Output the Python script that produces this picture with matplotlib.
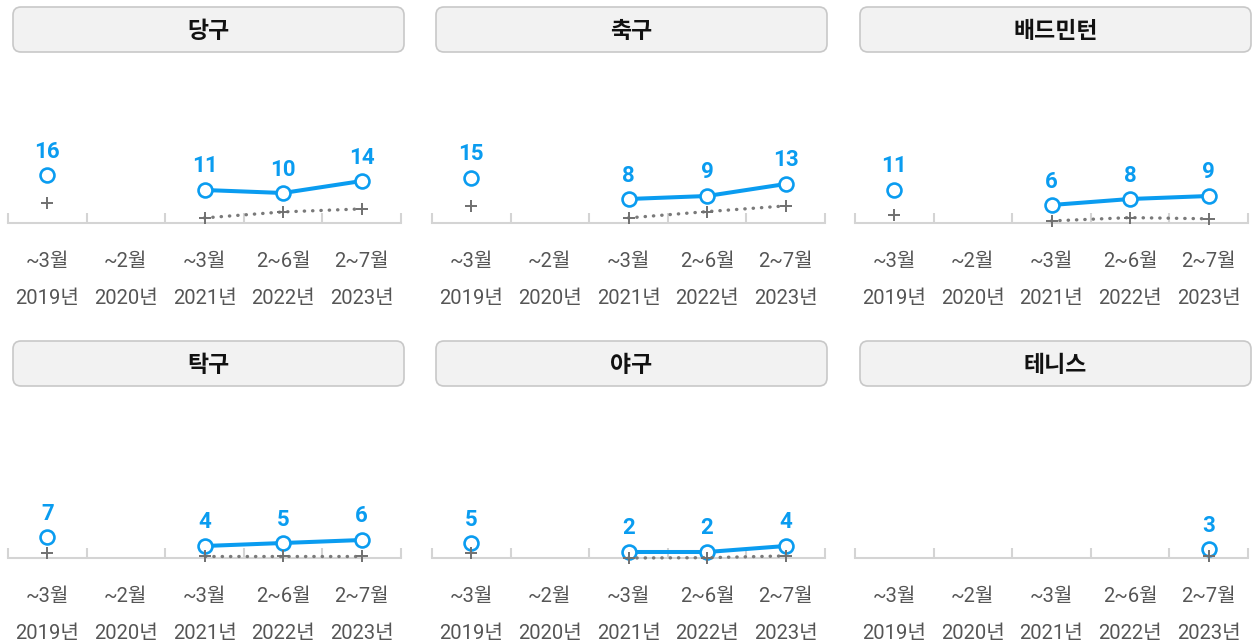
import numpy as np
import matplotlib
matplotlib.use("Agg")
import matplotlib.pyplot as plt
from matplotlib.patches import FancyBboxPatch
from matplotlib.transforms import IdentityTransform

plt.rcParams['font.family'] = ['Noto Sans CJK KR', 'DejaVu Sans']
LABEL_FONT = ['Roboto', 'Noto Sans CJK KR']

categories = ["~3월\n2019년", "~2월\n2020년", "~3월\n2021년", "2~6월\n2022년", "2~7월\n2023년"]
sports = ["당구", "축구", "배드민턴", "탁구", "야구", "테니스"]
nan = np.nan
blue_values = {
    "당구": [16, nan, 11, 10, 14],
    "축구": [15, nan, 8, 9, 13],
    "배드민턴": [11, nan, 6, 8, 9],
    "탁구": [7, nan, 4, 5, 6],
    "야구": [5, nan, 2, 2, 4],
    "테니스": [nan, nan, nan, nan, 3],
}
gray_values = {
    "당구": [6.8, nan, 1.7, 3.7, 4.7],
    "축구": [5.7, nan, 1.7, 3.8, 5.7],
    "배드민턴": [2.7, nan, 0.7, 1.8, 1.4],
    "탁구": [1.7, nan, 0.8, 0.8, 0.8],
    "야구": [1.8, nan, 0.0, 0.1, 0.7],
    "테니스": [nan, nan, nan, nan, 0.7],
}

BLUE = "#0a9cf0"
W, H = 1256, 643
fig = plt.figure(figsize=(W / 100, H / 100), dpi=100)

ax_lefts = [8, 432, 855]
ax_w = 393
box_lefts = [13, 436, 860]
box_w = 391
row_axis_y = [223, 558]      # pixel y (from top) of baseline
row_box_top = [7, 341]
box_h = 45
ax_h = 163
scale = 3.0  # px per unit

x = np.arange(len(categories))

for i, sport in enumerate(sports):
    r, c = divmod(i, 3)
    # header box
    bx = box_lefts[c]
    by = H - row_box_top[r] - box_h
    patch = FancyBboxPatch((bx, by), box_w, box_h,
                           boxstyle="round,pad=0,rounding_size=8",
                           transform=IdentityTransform(),
                           facecolor="#f2f2f2", edgecolor="#c8c8c8", linewidth=1.2)
    fig.add_artist(patch)
    fig.text((bx + box_w / 2) / W, (by + box_h / 2 - 2.5) / H, sport,
             ha="center", va="center", fontsize=16.5, fontweight="bold", color="#111111")

    # plot axes
    bottom = H - row_axis_y[r]
    ax = fig.add_axes([ax_lefts[c] / W, bottom / H, ax_w / W, ax_h / H])
    ax.set_xlim(-0.5, len(categories) - 0.5)
    ax.set_ylim(0, ax_h / scale)
    for s in ["top", "right", "left"]:
        ax.spines[s].set_visible(False)
    ax.spines["bottom"].set_color("#d4d4d4")
    ax.spines["bottom"].set_linewidth(1.5)
    ax.set_yticks([])
    ax.set_xticks(x)
    ax.set_xticklabels(categories, fontsize=14.5, color="#555555", linespacing=2.2,
                       family=LABEL_FONT)
    ax.set_xticks(np.arange(-0.5, len(categories)), minor=True)
    ax.tick_params(axis="x", which="major", length=0, pad=21)
    ax.tick_params(axis="x", which="minor", direction="in", length=7, width=1.5, color="#d4d4d4")
    ax.patch.set_alpha(0)

    bv = np.array(blue_values[sport], dtype=float)
    gv = np.array(gray_values[sport], dtype=float)

    ax.plot(x, bv, color=BLUE, lw=2.9, marker="o", markersize=10,
            markerfacecolor="white", markeredgecolor=BLUE, markeredgewidth=1.9,
            clip_on=False, zorder=3)
    ax.plot(x, gv, color="#7a7a7a", lw=2.4, linestyle=(0, (0.1, 2.4)),
            dash_capstyle="round", marker="+", markersize=8, markeredgewidth=1.4,
            markeredgecolor="#707070", clip_on=False, zorder=4)

    for xi, v in zip(x, bv):
        if not np.isnan(v):
            ax.annotate(f"{int(round(v))}", (xi, v), xytext=(0, 9),
                        textcoords="offset points", ha="center", va="bottom",
                        fontsize=16, fontweight="bold", color=BLUE, family=LABEL_FONT)

fig.savefig("out.png", dpi=100)
